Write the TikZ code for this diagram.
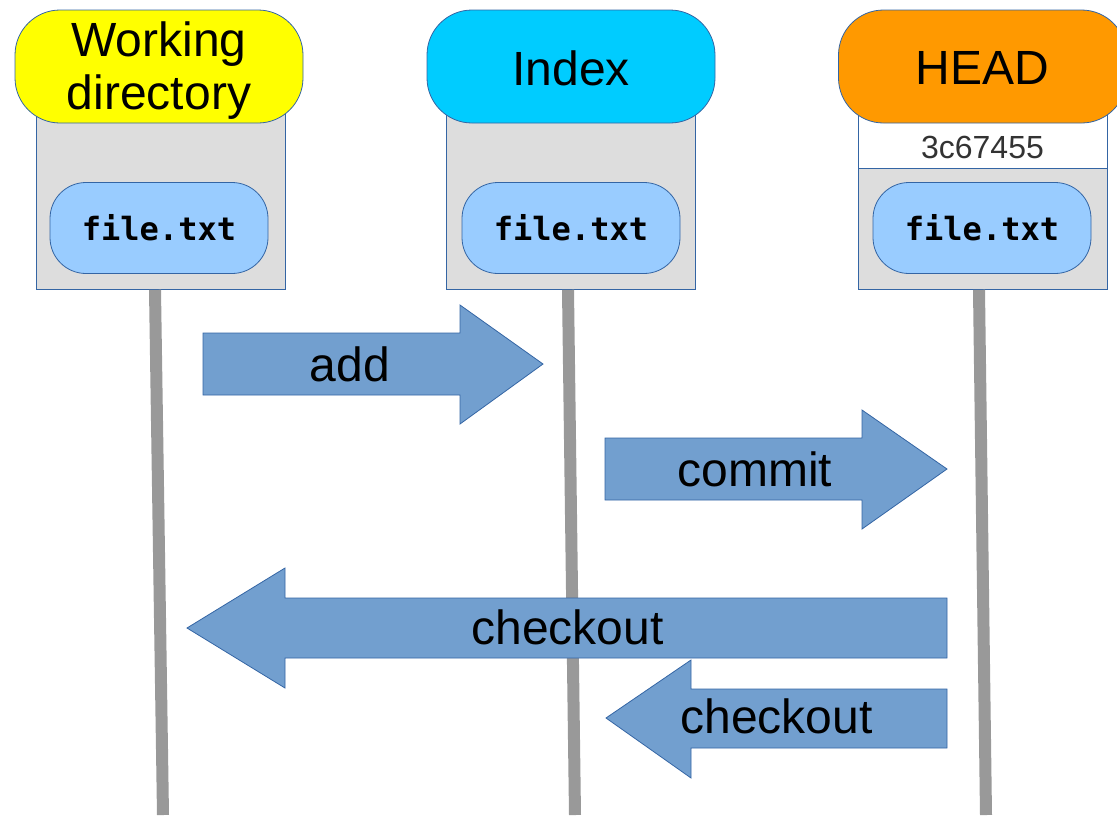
\documentclass[tikz,border=0pt]{standalone}
\usepackage{fontspec}
\setmainfont{Liberation Sans}
\setmonofont{DejaVu Sans Mono}
\usepackage{xcolor}
\usetikzlibrary{positioning}

\definecolor{wdyellow}{HTML}{FFFF00}
\definecolor{idxcyan}{HTML}{00CCFF}
\definecolor{headorange}{HTML}{FF9900}
\definecolor{fileblue}{HTML}{99CCFF}
\definecolor{boxgray}{HTML}{DDDDDD}
\definecolor{edgeblue}{HTML}{3465A4}
\definecolor{arrowblue}{HTML}{729FCF}
\definecolor{lifegray}{HTML}{999999}

\tikzset{
	stagebox/.style={draw=edgeblue, line width=0.8pt, fill=boxgray, inner sep=0pt,
		minimum width=249, anchor=north},
	capsule/.style={draw=edgeblue, line width=0.8pt, rounded corners=45pt, inner sep=0pt,
		minimum width=288, minimum height=113},
	capfont/.style={align=center, inner sep=0pt, font=\fontsize{48}{53}\selectfont},
	filecap/.style={draw=edgeblue, line width=0.8pt, fill=fileblue, rounded corners=36pt,
		inner sep=0pt, minimum width=218, minimum height=91,
		font=\ttfamily\bfseries\fontsize{32}{34}\selectfont},
	lifeline/.style={draw=lifegray, line width=12pt},
	blockarrow/.style={draw=edgeblue, line width=0.8pt, fill=arrowblue, line join=miter},
	cmdlabel/.style={anchor=base, font=\fontsize{48}{53}\selectfont}
}

\begin{document}
\begin{tikzpicture}[x=1pt, y=-1pt]
	\useasboundingbox (0,0) rectangle (1117,815);
	
	% --- LEFT: working directory ---
	\node[stagebox, minimum height=189] (wdbox) at (160.5,100) {};
	\node[filecap] (wdfile) at (159,228) {file.txt};
	\node[capsule, fill=wdyellow] (wd) at (159,66.5) {};
	\node[capfont] (wdlbl) at (159,71) {Working\\directory};
	
	% --- MIDDLE: index ---
	\node[stagebox, minimum height=189] (idxbox) at (570.5,100) {};
	\node[filecap] (idxfile) at (571,228) {file.txt};
	\node[capsule, fill=idxcyan] (idx) at (571,66.5) {};
	\node[capfont] (idxlbl) at (571,68) {Index};
	
	% --- RIGHT: HEAD with commit hash ---
	\node[stagebox, fill=white, minimum height=68] (hash) at (982.5,100) {};
	\node[stagebox, minimum height=121] (headbox) at (982.5,168) {};
	\node[font=\fontsize{32}{34}\selectfont, text=black!80] (hashlbl) at (982.5,147) {3c67455};
	\node[filecap] (headfile) at (982,228) {file.txt};
	\node[capsule, fill=headorange] (head) at (982.5,66.5) {};
	\node[capfont] (headlbl) at (982.5,68) {HEAD};
	
	% lifelines
	\coordinate (wdend) at (163,815);
	\coordinate (idxend) at (575,815);
	\coordinate (headend) at (986,815);
	\draw[lifeline] ([xshift=-5.5]wdbox.south) -- (wdend);
	\draw[lifeline] ([xshift=-2.5]idxbox.south) -- (idxend);
	\draw[lifeline] ([xshift=-3.5]headbox.south) -- (headend);
	
	% commands
	\draw[blockarrow] (203,333) -- (460,333) -- (460,305) -- (543,364)
		-- (460,424) -- (460,395) -- (203,395) -- cycle;
	\node[cmdlabel] (addlbl) at (350,381) {add};
	
	\draw[blockarrow] (605,438) -- (862,438) -- (862,410) -- (947,469)
		-- (862,529) -- (862,500) -- (605,500) -- cycle;
	\node[cmdlabel] (commitlbl) at (755,486) {commit};
	
	\draw[blockarrow] (947,598) -- (285,598) -- (285,568) -- (187,628)
		-- (285,688) -- (285,658) -- (947,658) -- cycle;
	\node[cmdlabel] (colong) at (567.5,644) {checkout};
	
	\draw[blockarrow] (947,689) -- (691,689) -- (691,660) -- (606,718)
		-- (691,778) -- (691,748) -- (947,748) -- cycle;
	\node[cmdlabel] (coshort) at (776.5,733) {checkout};
\end{tikzpicture}
\end{document}
